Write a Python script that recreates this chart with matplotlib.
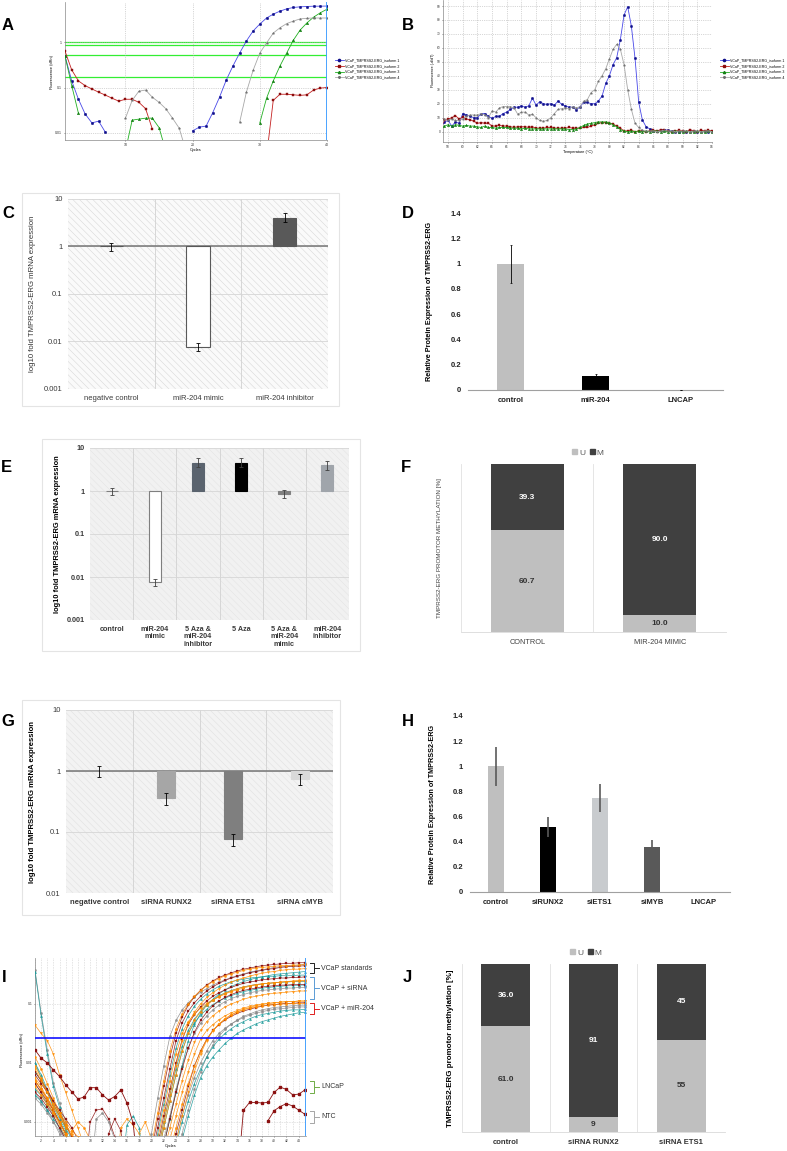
import numpy as np
import matplotlib
matplotlib.use('Agg')
import matplotlib.pyplot as plt
from matplotlib.patches import Rectangle, Patch
from matplotlib.lines import Line2D
from matplotlib.ticker import NullLocator, MultipleLocator

plt.rcParams['font.family'] = ['Liberation Sans', 'DejaVu Sans']
plt.rcParams['hatch.linewidth'] = 0.35

W, H = 787, 1151

# ______________________ A: amplification plot (dRn, log) ______________________
a_labels = ['VCaP_TMPRSS2-ERG_isoform 1', 'VCaP_TMPRSS2-ERG_isoform 2',
            'VCaP_TMPRSS2-ERG_isoform 3', 'VCaP_TMPRSS2-ERG_isoform 4']
a_iso1 = [0.50, 0.14, 0.055, 0.026, 0.0165, 0.018, 0.0103, None, None, None,
          None, None, None, None, None, None, None, None, None, 0.011,
          0.0133, 0.014, 0.028, 0.061, 0.146, 0.30, 0.58, 1.07, 1.78, 2.54,
          3.45, 4.2, 4.9, 5.5, 5.9, 6.1, 6.2, 6.3, 6.3, 6.35]
a_iso2 = [0.64, 0.245, 0.14, 0.11, 0.093, 0.079, 0.068, 0.058, 0.05, 0.055,
          0.055, 0.047, 0.034, 0.012, None, None, None, None, None, None,
          None, None, None, None, None, None, None, None, None, None,
          0.003, 0.052, 0.071, 0.071, 0.069, 0.067, 0.069, 0.088, 0.097, 0.10]
a_iso3 = [0.50, 0.11, 0.027, None, None, None, None, None, None, 0.004,
          0.019, 0.02, 0.021, 0.021, 0.013, 0.004, None, None, None, None,
          None, None, None, None, None, None, None, None, None, 0.0165,
          0.058, 0.14, 0.30, 0.58, 1.12, 1.87, 2.68, 3.6, 4.5, 5.4]
a_iso4 = [None, None, None, None, None, None, None, None, None, 0.021,
          0.052, 0.083, 0.088, 0.061, 0.047, 0.034, 0.021, 0.0126, 0.004, None,
          None, None, None, None, None, None, 0.017, 0.079, 0.24, 0.58,
          0.97, 1.6, 2.1, 2.6, 2.95, 3.3, 3.4, 3.45, 3.45, 3.45]
a_thresholds = [1.0, 0.87, 0.52, 0.17]

# ______________________ B: melt curves (-d/dT) ______________________
b_iso1 = [3.6, 7, 8, 4, 7, 6, 13, 12, 11, 10, 10, 13, 13, 11, 9.5, 11, 11, 13,
          14, 16, 17.5, 17.5, 18.5, 17.5, 18.5, 24, 19, 21.5, 20, 19.5, 20, 19,
          22, 19.5, 18.5, 17.5, 17.5, 15.5, 18, 21, 21, 20, 20, 22, 25.5, 34.5,
          40, 48, 53, 66, 83.5, 89.5, 75.5, 52.5, 21, 8.4, 3.6, 2, 0.5, 0.5,
          1, 1.5, 1, 0.5, 0, 0, 0.5, 0, 0.5, 0.5, 0, 0.5, 0.5, 0, 0.5]
b_iso2 = [3.5, 8, 9, 10, 11.5, 9, 10.5, 9, 8.5, 7.5, 6, 6.5, 6, 6, 4, 4, 4.5, 4,
          4, 3.5, 3, 3.5, 3.5, 3.5, 3, 3.5, 2.5, 2.5, 2.5, 3, 3, 2.5, 2.5, 2.5,
          2.5, 3, 2.5, 2.5, 2.5, 3, 3, 4, 5, 6, 6.5, 6.5, 6, 5.5, 4, 2.5, 0.5,
          0.5, 1, 0, 0.5, 0.5, 0, 0.5, 1, 0.5, 1.5, 1, 0.5, 0, 0.5, 1, 0.5, 0,
          1.5, 0.5, 0, 1, 0.5, 1, 0.5]
b_iso3 = [1.5, 4, 5, 4, 5, 4.5, 4, 4.5, 4, 4, 3.5, 3, 4, 3, 3, 2.5, 3, 3, 3,
          2.5, 2.5, 2.5, 2, 2.5, 2, 2, 2, 2, 2, 2, 2, 2, 2, 2, 2, 1.5, 1.5, 2,
          3, 4.5, 5.5, 6, 6.5, 7, 7, 7, 6.5, 5, 3.5, 1.5, 0.5, 0, 0.5, 0, 0.5,
          0, 0.5, 0, 0.5, 0.5, 0, 0.5, 0, 0, 0.5, 0, 0, 0.5, 0, 0, 0.5, 0, 0,
          0.5, 0]
b_iso4 = [3.6, 9, 8, 9, 8, 8, 9, 11, 12, 12, 12, 13, 12, 10, 15, 14, 17, 18,
          18, 18, 17, 12.5, 14, 14, 12, 12.5, 10, 8, 7.5, 8, 10, 13, 16, 16.5,
          17, 16.5, 18, 17, 18, 22, 23, 28, 30, 36, 40, 45, 52, 59, 62.5, 59,
          48, 30, 16, 6, 3, 1, 0.5, 0.5, 0.5, 0, 0.5, 1, 0.5, 0.5, 0, 0.5, 0.5,
          0.5, 0, 0.5, 0.5, 0, 0.5, 0.5, 0]

# ______________________ C: mRNA, miR-204 ______________________
c_labels = ['negative control', 'miR-204 mimic', 'miR-204 inhibitor']
c_vals = [1.0, 0.0075, 4.0]
c_lo = [0.8, 0.0062, 3.25]
c_hi = [1.2, 0.0091, 5.0]

# ______________________ D: protein, miR-204 ______________________
d_labels = ['control', 'miR-204', 'LNCAP']
d_vals = [1.0, 0.11, 0.003]
d_err = [0.15, 0.015, 0.0]

# ______________________ E: mRNA, 5 Aza ______________________
e_labels = ['control', 'miR-204\nmimic', '5 Aza &\nmiR-204\ninhibitor', '5 Aza',
            '5 Aza &\nmiR-204\nmimic', 'miR-204\ninhibitor']
e_vals = [1.0, 0.0076, 4.55, 4.55, 0.87, 4.0]
e_lo = [0.8, 0.0063, 3.55, 3.6, 0.7, 3.1]
e_hi = [1.2, 0.0089, 5.7, 5.7, 1.05, 5.0]

# ______________________ F: methylation, miR-204 ______________________
f_labels = ['CONTROL', 'MIR-204 MIMIC']
f_u = [60.7, 10.0]
f_m = [39.3, 90.0]
f_fmt = ['%.1f', '%.1f']

# ______________________ G: mRNA, siRNA ______________________
g_labels = ['negative control', 'siRNA RUNX2', 'siRNA ETS1', 'siRNA cMYB']
g_vals = [1.0, 0.365, 0.077, 0.74]
g_lo = [0.81, 0.28, 0.06, 0.58]
g_hi = [1.22, 0.44, 0.091, 0.89]

# ______________________ H: protein, siRNA ______________________
h_labels = ['control', 'siRUNX2', 'siETS1', 'siMYB', 'LNCAP']
h_vals = [1.0, 0.52, 0.748, 0.356, 0.003]
h_err = [0.155, 0.08, 0.115, 0.058, 0.0]

# ______________________ I: amplification plot, all samples (log10 dRn) ______________________
# each curve: (early values from cycle 1, late values ending at cycle 45)
i_standards = [
    ([-0.42, -1.15, -1.78, -2.34, -2.68, -3.0, -3.3, -4],
     [-3.8, -3.2, -2.6, -2.05, -1.55, -1.28, -1.10, -0.98, -0.88, -0.80, -0.74, -0.68, -0.63, -0.59,
      -0.55, -0.52, -0.49, -0.46, -0.44, -0.42, -0.40, -0.38, -0.37, -0.36, -0.35, -0.34, -0.33]),
    ([-2.3, -2.45, -2.6, -2.8, -3.0, -3.2, -4],
     [-4, -3.5, -2.95, -2.4, -1.9, -1.5, -1.22, -1.02, -0.88, -0.77, -0.68, -0.61, -0.55, -0.51,
      -0.47, -0.44, -0.41, -0.39, -0.37, -0.35, -0.34, -0.33, -0.32, -0.31, -0.31, -0.30, -0.30]),
    ([-2.2, -2.35, -2.5, -2.65, -2.8, -2.95, -3.1, -3.3, -4],
     [-4, -3.6, -3.1, -2.6, -2.1, -1.62, -1.32, -1.12, -0.98, -0.87, -0.78, -0.71, -0.65, -0.60,
      -0.56, -0.53, -0.50, -0.47, -0.45, -0.43, -0.41, -0.40, -0.38, -0.37, -0.36, -0.36, -0.35]),
    ([-1.36, -1.5, -1.62, -1.85, -2.2, -2.5, -2.8, -3.1, -3.4, -4],
     [-4, -3.5, -3.0, -2.55, -2.05, -1.62, -1.33, -1.14, -1.0, -0.89, -0.81, -0.74, -0.68, -0.63,
      -0.59, -0.56, -0.53, -0.50, -0.48, -0.46, -0.45, -0.43, -0.42, -0.41, -0.41, -0.40]),
    ([-2.45, -2.55, -2.7, -2.85, -3.0, -3.2, -4],
     [-4, -3.4, -2.95, -2.5, -2.05, -1.62, -1.35, -1.16, -1.02, -0.92, -0.83, -0.76, -0.70, -0.66,
      -0.62, -0.59, -0.56, -0.54, -0.52, -0.50, -0.49, -0.48, -0.47, -0.46, -0.45]),
    ([-2.05, -2.25, -2.5, -2.7, -2.9, -3.1, -4],
     [-4, -3.4, -2.85, -2.3, -1.8, -1.42, -1.17, -1.0, -0.87, -0.77, -0.69, -0.62, -0.57, -0.52,
      -0.49, -0.46, -0.43, -0.41, -0.39, -0.38, -0.37, -0.36, -0.35, -0.35, -0.34, -0.34, -0.33]),
]
i_standards_style = [('#8a8a8a', 'o'), ('#8b1010', 's'), ('#8b1010', 's'),
                     ('#ff8c00', 'v'), ('#1a9a9a', '^'), ('#ff8c00', 'o')]
i_sirna = [
    ([-2.3, -2.45, -2.6, -2.75, -2.9, -3.05, -3.2, -4],
     [-3.8, -3.3, -2.8, -2.3, -1.85, -1.5, -1.3, -1.17, -1.07, -0.99, -0.93, -0.88, -0.83, -0.79,
      -0.76, -0.73, -0.70, -0.68, -0.66, -0.65, -0.64, -0.63, -0.62, -0.61, -0.60, -0.60]),
    ([-2.0, -2.2, -2.45, -2.7, -2.9, -3.1, -3.3, -4],
     [-4, -3.6, -3.1, -2.65, -2.2, -1.8, -1.5, -1.32, -1.19, -1.09, -1.01, -0.95, -0.9, -0.86,
      -0.82, -0.79, -0.77, -0.75, -0.73, -0.72, -0.71, -0.70, -0.69, -0.69, -0.68, -0.68]),
    ([-2.5, -2.6, -2.75, -2.9, -3.1, -3.3, -4],
     [-4, -3.4, -2.9, -2.45, -2.0, -1.6, -1.35, -1.18, -1.05, -0.95, -0.87, -0.81, -0.76, -0.72,
      -0.68, -0.65, -0.63, -0.61, -0.59, -0.58, -0.57, -0.56, -0.56, -0.55, -0.55, -0.54]),
    ([-2.1, -2.3, -2.5, -2.7, -2.85, -3.0, -3.15, -3.25, -4],
     [-4, -3.5, -3.1, -2.7, -2.3, -1.95, -1.65, -1.45, -1.3, -1.2, -1.12, -1.05, -1.0, -0.96,
      -0.92, -0.89, -0.87, -0.85, -0.83, -0.82, -0.81, -0.80, -0.79, -0.78, -0.78]),
    ([-2.6, -2.7, -2.85, -3.0, -3.15, -3.3, -4],
     [-4, -3.8, -3.3, -2.9, -2.45, -2.05, -1.75, -1.5, -1.33, -1.2, -1.1, -1.02, -0.96, -0.91,
      -0.87, -0.84, -0.81, -0.79, -0.77, -0.76, -0.75, -0.74, -0.73, -0.73, -0.72, -0.72]),
    ([-2.55, -2.65, -2.8, -2.95, -3.1, -3.25, -4],
     [-4, -3.7, -3.2, -2.7, -2.2, -1.75, -1.42, -1.2, -1.04, -0.92, -0.83, -0.76, -0.70, -0.66,
      -0.62, -0.60, -0.58, -0.56, -0.55, -0.54, -0.53, -0.53, -0.52, -0.52, -0.52, -0.51, -0.51]),
    ([-1.9, -2.1, -2.35, -2.6, -2.85, -3.05, -3.25, -4],
     [-4, -3.6, -3.1, -2.65, -2.2, -1.8, -1.5, -1.28, -1.13, -1.02, -0.94, -0.87, -0.82, -0.78,
      -0.74, -0.71, -0.69, -0.67, -0.66, -0.65, -0.64, -0.63, -0.62, -0.62, -0.61, -0.61]),
    ([-2.15, -2.3, -2.5, -2.7, -2.9, -3.1, -4],
     [-4, -3.5, -3.0, -2.55, -2.1, -1.72, -1.45, -1.26, -1.12, -1.01, -0.93, -0.86, -0.81, -0.77,
      -0.74, -0.71, -0.69, -0.67, -0.66, -0.65, -0.64, -0.63, -0.63, -0.62, -0.62, -0.62]),
    ([-2.35, -2.5, -2.65, -2.8, -3.0, -3.2, -4],
     [-4, -3.4, -2.95, -2.5, -2.1, -1.75, -1.48, -1.28, -1.14, -1.03, -0.95, -0.89, -0.84, -0.80,
      -0.77, -0.75, -0.73, -0.71, -0.70, -0.69, -0.68, -0.68, -0.67, -0.67, -0.67]),
]
i_sirna_style = [('#ff8c00', 'o'), ('#1a9a9a', '^'), ('#8b1010', 's'), ('#ff8c00', 'v'),
                 ('#8a8a8a', 'o'), ('#1a9a9a', '^'), ('#ff8c00', 'o'), ('#1a9a9a', '^'),
                 ('#8b1010', 's')]
i_mir204 = [
    ([-2.25, -2.4, -2.6, -2.8, -3.0, -3.2, -4],
     [-4, -3.3, -2.9, -2.5, -2.15, -1.85, -1.6, -1.45, -1.35, -1.27, -1.2, -1.15, -1.11, -1.07,
      -1.04, -1.02, -1.0, -0.99, -0.98, -0.97, -0.96, -0.96, -0.95, -0.95]),
    ([-2.35, -2.5, -2.7, -2.9, -3.1, -3.3, -4],
     [-4, -3.3, -2.9, -2.55, -2.25, -2.0, -1.8, -1.62, -1.5, -1.41, -1.34, -1.28, -1.23, -1.19,
      -1.16, -1.13, -1.11, -1.09, -1.08, -1.07, -1.06, -1.05, -1.05]),
    ([-0.45, -1.2, -1.85, -2.4, -2.75, -3.1, -4],
     [-3.3, -2.9, -2.55, -2.25, -2.05, -1.9, -1.78, -1.67, -1.58, -1.5, -1.44, -1.39, -1.34, -1.30,
      -1.27, -1.24, -1.21, -1.19, -1.17, -1.15, -1.14]),
    ([-2.15, -2.3, -2.45, -2.65, -2.85, -3.05, -3.25, -4],
     [-4, -3.2, -2.8, -2.4, -2.05, -1.8, -1.6, -1.45, -1.35, -1.27, -1.21, -1.16, -1.12, -1.09,
      -1.06, -1.04, -1.02, -1.01, -1.0, -0.99, -0.99, -0.98, -0.98]),
    ([-2.4, -2.55, -2.7, -2.85, -3.0, -3.2, -4],
     [-4, -3.5, -3.1, -2.7, -2.35, -2.05, -1.8, -1.6, -1.45, -1.34, -1.26, -1.19, -1.14, -1.10,
      -1.07, -1.05, -1.03, -1.02, -1.01, -1.0, -1.0, -0.99, -0.99, -0.99]),
    ([-2.0, -2.25, -2.5, -2.75, -2.95, -3.15, -4],
     [-4, -3.4, -3.0, -2.65, -2.35, -2.1, -1.9, -1.73, -1.6, -1.5, -1.42, -1.35, -1.3, -1.25,
      -1.21, -1.18, -1.16, -1.14, -1.12, -1.11, -1.10, -1.10, -1.09]),
    ([-2.5, -2.65, -2.8, -3.0, -3.2, -4],
     [-4, -3.2, -2.8, -2.45, -2.15, -1.9, -1.7, -1.55, -1.43, -1.34, -1.27, -1.21, -1.17, -1.13,
      -1.10, -1.08, -1.06, -1.05, -1.04, -1.03, -1.02, -1.02]),
    ([-2.3, -2.45, -2.65, -2.85, -3.05, -3.25, -4],
     [-4, -3.35, -2.9, -2.5, -2.15, -1.85, -1.62, -1.46, -1.34, -1.25, -1.18, -1.13, -1.09, -1.06,
      -1.03, -1.01, -0.99, -0.98, -0.97, -0.96, -0.96, -0.95, -0.95]),
]
i_mir204_style = [('#ff8c00', 'v'), ('#8a8a8a', 'o'), ('#1a9a9a', '^'), ('#8b1010', 's'),
                  ('#ff8c00', 'o'), ('#1a9a9a', '^'), ('#8a8a8a', 'o'), ('#ff8c00', 'v')]
# noisy baseline segments: (first cycle, values)
i_noise = [(9, [-4, -3.0, -2.8, -2.78, -2.95, -3.25, -4]),
           (14, [-4, -3.1, -2.95, -3.05, -3.2, -3.0, -3.3, -4]),
           (10, [-4, -2.95, -2.85, -3.0, -3.3, -4]),
           (15, [-4, -3.05, -2.9, -3.1, -4]),
           (6, [-4, -3.15, -3.0, -3.1, -3.3, -4]),
           (12, [-4, -3.2, -2.95, -3.15, -4])]
i_noise_style = [('#8b1010', 's'), ('#ff8c00', 'v'), ('#8a8a8a', 'o'), ('#1a9a9a', '^'),
                 ('#ff8c00', 'o'), ('#8b1010', 's')]
i_lncap_early = [-1.78, -1.92, -2.0, -2.12, -2.23, -2.37, -2.49, -2.61, -2.58, -2.42, -2.42,
                 -2.54, -2.63, -2.57, -2.46, -2.68, -3.02, -4]
i_lncap_late = [-4, -2.8, -2.67, -2.67, -2.68, -2.67, -2.5, -2.41, -2.45, -2.54, -2.53, -2.46]
i_ntc_late = [-2.98, -2.81, -2.74, -2.69, -2.73, -2.80, -2.87]
i_threshold = 10 ** -1.58
i_groups = ['VCaP standards', 'VCaP + siRNA', 'VCaP + miR-204', 'LNCaP', 'NTC']
i_group_colors = ['#222222', '#5b9bd5', '#e02020', '#70ad47', '#a6a6a6']

# ______________________ J: methylation, siRNA ______________________
j_labels = ['control', 'siRNA RUNX2', 'siRNA ETS1']
j_u = [61.0, 9, 55]
j_m = [36.0, 91, 45]
j_fmt = ['%.1f', '%d', '%d']


# _______________________ helpers __________________________________

def px_axes(fig, x0, y0, x1, y1):
    return fig.add_axes([x0 / W, 1 - y1 / H, (x1 - x0) / W, (y1 - y0) / H])


def fig_text(fig, x, y, s, **kw):
    fig.text(x / W, 1 - y / H, s, **kw)


def panel_label(fig, x, y, s):
    fig_text(fig, x, y, s, fontsize=12, fontweight='bold', ha='center', va='center')


def frame_box(fig, x0, y0, x1, y1):
    fig.add_artist(Rectangle((x0 / W, 1 - y1 / H), (x1 - x0) / W, (y1 - y0) / H,
                             transform=fig.transFigure, fill=False, ec='#e4e4e4', lw=0.8))


def to_arr(vals):
    return np.array([np.nan if v is None else v for v in vals], dtype=float)


def full_curve(early, late, n=45):
    y = np.full(n, np.nan)
    y[:len(early)] = early
    y[n - len(late):] = late
    return 10 ** y


def qpcr_style(ax, fs=2.6):
    ax.tick_params(labelsize=fs, length=1, width=0.4, pad=1, colors='#333333')
    for s in ['top', 'right']:
        ax.spines[s].set_visible(False)
    for s in ['left', 'bottom']:
        ax.spines[s].set_color('#888888')
        ax.spines[s].set_linewidth(0.5)


def log_bar_panel(ax, labels, vals, lo, hi, colors, edges, width, bg, hatch_c,
                  ymin, bold, baseline, ecolor='black'):
    ax.set_facecolor(bg)
    ax.add_patch(Rectangle((0, 0), 1, 1, transform=ax.transAxes, fill=False,
                           hatch='\\\\\\\\\\', ec=hatch_c, lw=0, zorder=0))
    ax.set_yscale('log')
    ax.set_ylim(ymin, 10)
    decs = [10.0 ** k for k in range(int(round(np.log10(ymin))), 2)]
    ax.set_yticks(decs)
    ax.set_yticklabels([('%g' % d) for d in decs])
    ax.yaxis.set_minor_locator(NullLocator())
    n = len(labels)
    ax.set_xlim(-0.5, n - 0.5)
    for b in np.arange(0.5, n - 0.5, 1):
        ax.axvline(b, color='#d6d6d6', lw=0.7, zorder=1)
    for d in decs:
        ax.axhline(d, color='#d6d6d6', lw=0.6, zorder=1)
    if baseline:
        ax.axhline(1, color='#7f7f7f', lw=1.2, zorder=2)
    x = np.arange(n)
    v = np.array(vals)
    ax.bar(x, v - 1, bottom=1, width=width, color=colors, edgecolor=edges, lw=0.8, zorder=3)
    ax.errorbar(x, v, yerr=[v - np.array(lo), np.array(hi) - v], fmt='none', ecolor=ecolor,
                elinewidth=0.6, capsize=1.2, capthick=0.6, zorder=4)
    ax.set_xticks(x)
    w = 'bold' if bold else 'normal'
    ax.set_xticklabels(labels, fontweight=w, linespacing=1.15)
    for t in ax.get_yticklabels():
        t.set_fontweight(w)
    ax.tick_params(length=0, labelsize=5.5, colors='#3a3a3a', pad=4)
    for s in ax.spines.values():
        s.set_visible(False)


def protein_panel(ax, labels, vals, err, colors, width, ecolor, elw, cap):
    x = np.arange(len(labels))
    ax.bar(x, vals, width=width, color=colors, zorder=2)
    ax.errorbar(x, vals, yerr=err, fmt='none', ecolor=ecolor, elinewidth=elw,
                capsize=cap, capthick=0.5, zorder=3)
    ax.set_xlim(-0.5, len(labels) - 0.5)
    ax.set_ylim(0, 1.4)
    ticks = [0, 0.2, 0.4, 0.6, 0.8, 1, 1.2, 1.4]
    ax.set_yticks(ticks)
    ax.set_yticklabels([('%g' % t) for t in ticks], fontweight='bold')
    ax.set_xticks(x)
    ax.set_xticklabels(labels, fontweight='bold')
    ax.tick_params(length=0, labelsize=5.5, colors='#222222', pad=5)
    for s in ['top', 'right', 'left']:
        ax.spines[s].set_visible(False)
    ax.spines['bottom'].set_color('#a0a0a0')
    ax.spines['bottom'].set_linewidth(0.8)


def methyl_panel(ax, labels, u, m, fmts, width):
    u = np.array(u, dtype=float)
    m = np.array(m, dtype=float)
    tot = u + m
    up = u / tot * 100
    mp = m / tot * 100
    x = np.arange(len(labels))
    ax.bar(x, up, width=width, color='#bfbfbf', zorder=2)
    ax.bar(x, mp, bottom=up, width=width, color='#404040', zorder=2)
    for i in range(len(labels)):
        ax.text(x[i], up[i] / 2, fmts[i] % u[i], ha='center', va='center', fontsize=6,
                fontweight='bold', color='#333333', zorder=3)
        ax.text(x[i], up[i] + mp[i] / 2, fmts[i] % m[i], ha='center', va='center', fontsize=6,
                fontweight='bold', color='white', zorder=3)
    ax.set_xlim(-0.5, len(labels) - 0.5)
    ax.set_ylim(0, 100)
    for b in np.arange(-0.5, len(labels), 1):
        ax.axvline(b, color='#e0e0e0', lw=0.6, zorder=1)
    ax.set_yticks([])
    ax.set_xticks(x)
    for s in ['top', 'right', 'left']:
        ax.spines[s].set_visible(False)
    ax.spines['bottom'].set_color('#d9d9d9')
    ax.spines['bottom'].set_linewidth(0.6)


def methyl_legend(fig, x, y):
    hs = [Patch(color='#bfbfbf'), Patch(color='#404040')]
    fig.legend(hs, ['U', 'M'], loc='center', bbox_to_anchor=(x / W, 1 - y / H), ncol=2,
               fontsize=6, frameon=False, handlelength=0.55, handleheight=0.55,
               handletextpad=0.25, columnspacing=0.6, labelcolor='#595959',
               borderpad=0, borderaxespad=0)


# _______________________ figure __________________________________

fig = plt.figure(figsize=(W / 100, H / 100), dpi=100)

a_styles = [('o', '#4848e8', '#10108a'), ('s', '#c42020', '#8b0d0d'),
            ('^', '#22b022', '#128012'), ('*', '#a8a8a8', '#707070')]

# ---- A ----
ax = px_axes(fig, 65, 2, 327, 140)
ax.set_yscale('log')
ax.set_xlim(1, 40)
ax.set_ylim(0.0069, 7.8)
for th in a_thresholds:
    ax.axhline(th, color='#33ee33', lw=0.9, zorder=1)
cyc = np.arange(1, 41)
handles = []
for vals, (mk, lc, mc) in zip([a_iso1, a_iso2, a_iso3, a_iso4], a_styles):
    ax.plot(cyc, to_arr(vals), color=lc, lw=0.6, marker=mk, ms=1.8, mfc=mc, mec=mc, mew=0.3, zorder=3)
    handles.append(Line2D([], [], color=lc, lw=0.6, marker=mk, ms=1.6, mfc=mc, mec=mc))
ax.axvline(40, color='#3b9cff', lw=1.3, zorder=4)
ax.set_xticks([10, 20, 30, 40])
ax.set_yticks([0.01, 0.1, 1])
ax.set_yticklabels(['0.01', '0.1', '1'])
ax.yaxis.set_minor_locator(NullLocator())
ax.grid(ls=':', color='#b0b0b0', lw=0.5)
qpcr_style(ax)
ax.set_xlabel('Cycles', fontsize=2.8, labelpad=1)
fig_text(fig, 52, 72, 'Fluorescence (dRn)', fontsize=2.8, rotation=90, ha='center', va='center')
fig.legend(handles, a_labels, loc='center left', bbox_to_anchor=(335 / W, 1 - 69 / H),
           fontsize=2.6, frameon=False, handlelength=2.4, handletextpad=0.4,
           labelspacing=0.45, borderpad=0, borderaxespad=0)
panel_label(fig, 8, 25, 'A')

# ---- B ----
ax = px_axes(fig, 443, 0, 712, 142)
for vals, (mk, lc, mc) in zip([b_iso1, b_iso2, b_iso3, b_iso4], a_styles):
    t = 57 + 0.5 * np.arange(len(vals))
    ax.plot(t, vals, color=lc, lw=0.6, marker=mk, ms=1.7, mfc=mc, mec=mc, mew=0.3, zorder=3)
ax.set_xlim(57.3, 94)
ax.set_ylim(-7.4, 94.3)
ax.set_xticks(np.arange(58, 95, 2))
ax.set_yticks(np.arange(0, 91, 10))
ax.grid(ls=':', color='#b0b0b0', lw=0.5)
qpcr_style(ax, fs=2.3)
ax.set_xlabel('Temperature (\u00b0C)', fontsize=2.8, labelpad=1)
fig_text(fig, 433, 70, 'Fluorescence (-d/dT)', fontsize=2.6, rotation=90, ha='center', va='center')
fig.legend(handles, a_labels, loc='center left', bbox_to_anchor=(720 / W, 1 - 69 / H),
           fontsize=2.6, frameon=False, handlelength=2.4, handletextpad=0.4,
           labelspacing=0.45, borderpad=0, borderaxespad=0)
panel_label(fig, 408, 25, 'B')

# ---- C ----
frame_box(fig, 22, 193, 339, 406)
ax = px_axes(fig, 68, 199, 328, 389)
log_bar_panel(ax, c_labels, c_vals, c_lo, c_hi, ['white', 'white', '#595959'],
              ['#595959', '#595959', '#595959'], 0.27, '#fafafa', '#d4d4d4', 0.001,
              bold=False, baseline=True)
fig_text(fig, 33, 294, 'log10 fold TMPRSS2-ERG mRNA expression', fontsize=5.6,
         rotation=90, ha='center', va='center', color='#333333')
panel_label(fig, 8, 213, 'C')

# ---- D ----
ax = px_axes(fig, 468, 213, 723, 390)
protein_panel(ax, d_labels, d_vals, d_err, ['#bfbfbf', '#000000', '#bfbfbf'], 0.31,
              '#000000', 0.6, 1.0)
fig_text(fig, 429, 301, 'Relative Protein Expression of TMPRSS2-ERG', fontsize=5.2,
         rotation=90, ha='center', va='center', fontweight='bold')
panel_label(fig, 408, 213, 'D')

# ---- E ----
frame_box(fig, 42, 439, 360, 651)
ax = px_axes(fig, 90, 448, 349, 620)
log_bar_panel(ax, e_labels, e_vals, e_lo, e_hi,
              ['white', 'white', '#5a636e', '#000000', '#808080', '#a0a5ab'],
              ['#7f7f7f', '#7f7f7f', '#5a636e', '#000000', '#808080', '#a0a5ab'],
              0.28, '#f1f1f1', '#e2e2e2', 0.001, bold=True, baseline=False, ecolor='#404040')
ax.tick_params(labelsize=5.2)
fig_text(fig, 58, 534, 'log10 fold TMPRSS2-ERG mRNA expression', fontsize=5.4,
         rotation=90, ha='center', va='center', fontweight='bold')
panel_label(fig, 6, 468, 'E')

# ---- F ----
ax = px_axes(fig, 461, 464, 726, 632)
methyl_panel(ax, f_labels, f_u, f_m, f_fmt, 0.55)
ax.set_xticklabels(f_labels)
ax.tick_params(length=0, labelsize=5.3, colors='#404040', pad=5)
methyl_legend(fig, 588, 453)
fig_text(fig, 440, 548, 'TMPRSS2-ERG PROMOTOR METHYLATION [%]', fontsize=4.5,
         rotation=90, ha='center', va='center', color='#404040')
panel_label(fig, 406, 468, 'F')

# ---- G ----
frame_box(fig, 22, 700, 340, 915)
ax = px_axes(fig, 66, 710, 333, 893)
log_bar_panel(ax, g_labels, g_vals, g_lo, g_hi, ['white', '#a6a6a6', '#7f7f7f', '#d9d9d9'],
              ['none', '#a6a6a6', '#7f7f7f', '#d9d9d9'], 0.27, '#f3f3f3', '#dedede', 0.01,
              bold=True, baseline=True)
for t in ax.get_yticklabels():
    t.set_fontweight('normal')
fig_text(fig, 33, 802, 'log10 fold TMPRSS2-ERG mRNA expression', fontsize=5.6,
         rotation=90, ha='center', va='center', fontweight='bold')
panel_label(fig, 8, 722, 'G')

# ---- H ----
ax = px_axes(fig, 470, 716, 730, 892)
protein_panel(ax, h_labels, h_vals, h_err,
              ['#bfbfbf', '#000000', '#c8cbce', '#595959', '#bfbfbf'], 0.31, '#5a5a5a', 1.2, 0)
fig_text(fig, 433, 804, 'Relative Protein Expression of TMPRSS2-ERG', fontsize=5.2,
         rotation=90, ha='center', va='center', fontweight='bold')
panel_label(fig, 408, 722, 'H')

# ---- I ----
ax = px_axes(fig, 35, 958, 306, 1136)
ax.set_yscale('log')
ax.set_xlim(1, 45.2)
ax.set_ylim(10 ** -3.24, 10 ** -0.22)
icyc = np.arange(1, 46)
draw = []
for curves, styles in [(i_standards, i_standards_style), (i_sirna, i_sirna_style),
                       (i_mir204, i_mir204_style)]:
    for (early, late), st in zip(curves, styles):
        draw.append((full_curve(early, late), st))
order = {'#8a8a8a': 0, '#1a9a9a': 1, '#8b1010': 2, '#ff8c00': 3}
draw.sort(key=lambda d: order[d[1][0]])
for (start, vals), (c, mk) in zip(i_noise, i_noise_style):
    xs = np.arange(start, start + len(vals))
    ax.plot(xs, 10 ** np.array(vals), color=c, lw=0.5, marker=mk, ms=1.7, mfc=c, mec=c,
            mew=0.2, alpha=0.9, zorder=2)
for y, (c, mk) in draw:
    ax.plot(icyc, y, color=c, lw=0.5, marker=mk, ms=1.7, mfc=c, mec=c, mew=0.2,
            alpha=0.9, zorder=3)
dr = '#8b1010'
ax.plot(icyc, full_curve(i_lncap_early, i_lncap_late), color=dr, lw=0.6, marker='s', ms=1.8,
        mfc=dr, mec=dr, zorder=4)
ax.plot(icyc, full_curve([], i_ntc_late), color=dr, lw=0.6, marker='s', ms=1.8,
        mfc=dr, mec=dr, zorder=4)
ax.axhline(i_threshold, color='#1010ff', lw=1.2, zorder=5)
ax.axvline(45.2, color='#3b9cff', lw=1.3, zorder=5)
ax.set_xticks(np.arange(2, 45, 2))
ax.xaxis.set_minor_locator(MultipleLocator(1))
ax.set_yticks([0.001, 0.01, 0.1])
ax.set_yticklabels(['0.001', '0.01', '0.1'])
ax.yaxis.set_minor_locator(NullLocator())
ax.grid(which='both', ls=':', color='#c0c0c0', lw=0.45)
qpcr_style(ax, fs=2.4)
ax.tick_params(which='minor', length=0)
ax.set_xlabel('Cycles', fontsize=2.8, labelpad=1)
fig_text(fig, 22, 1050, 'Fluorescence (dRn)', fontsize=2.8, rotation=90, ha='center', va='center')
brackets = [(963, 973), (977, 999), (1003, 1014), (1081, 1093), (1111, 1123)]
for name, c, (y0, y1) in zip(i_groups, i_group_colors, brackets):
    bx = [310 / W, 314 / W, 314 / W, 310 / W]
    by = [1 - y0 / H, 1 - y0 / H, 1 - y1 / H, 1 - y1 / H]
    fig.add_artist(Line2D(bx, by, transform=fig.transFigure, color=c, lw=0.7))
    ym = 1 - (y0 + y1) / 2 / H
    fig.add_artist(Line2D([314 / W, 319 / W], [ym, ym], transform=fig.transFigure, color=c, lw=0.7))
    fig_text(fig, 321, (y0 + y1) / 2, name, fontsize=5, ha='left', va='center', color='#333333')
panel_label(fig, 4, 978, 'I')

# ---- J ----
ax = px_axes(fig, 462, 964, 725, 1132)
methyl_panel(ax, j_labels, j_u, j_m, j_fmt, 0.56)
ax.set_xticklabels(j_labels, fontweight='bold')
ax.tick_params(length=0, labelsize=5.5, colors='#333333', pad=5)
methyl_legend(fig, 586, 953)
fig_text(fig, 451, 1048, 'TMPRSS2-ERG promotor methylation [%]', fontsize=5.8,
         rotation=90, ha='center', va='center', fontweight='bold')
panel_label(fig, 407, 978, 'J')

fig.savefig('out.png', dpi=100)
